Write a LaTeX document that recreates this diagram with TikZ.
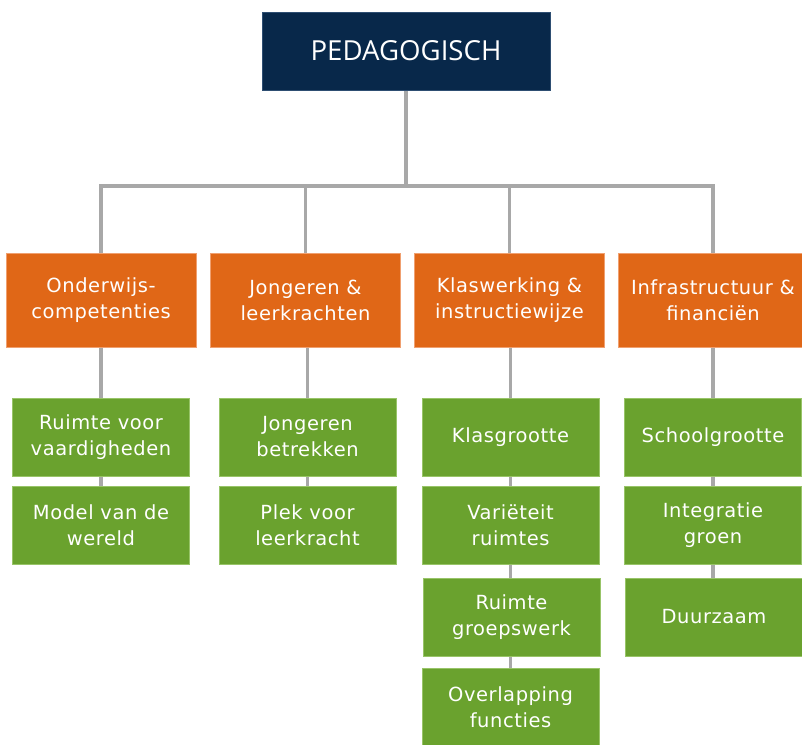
\documentclass[tikz,border=0pt]{standalone}
\usepackage{fontspec}
\setmainfont{DejaVu Sans}[LetterSpace=3]
\newfontfamily\titlefont{Open Sans}
\usetikzlibrary{backgrounds}
\definecolor{navy}{HTML}{08284A}
\definecolor{navyedge}{HTML}{2E4E72}
\definecolor{orangefill}{HTML}{E06717}
\definecolor{orangeedge}{HTML}{F0A070}
\definecolor{greenfill}{HTML}{6AA22E}
\definecolor{greenedge}{HTML}{98C468}
\definecolor{linkgray}{HTML}{A8A8A8}
\tikzset{
  x=0.75pt, y=-0.75pt,
  topbox/.style={draw=navyedge, line width=0.5pt, fill=navy, text=white,
    minimum width=216pt, minimum height=58.5pt, inner sep=0pt,
    font=\titlefont\fontsize{20.7}{25}\selectfont},
  catbox/.style={draw=orangeedge, line width=0.6pt, fill=orangefill, text=white,
    minimum width=142.5pt, minimum height=70.5pt, inner sep=0pt, align=center,
    font=\fontsize{14.6}{19.5}\selectfont},
  itembox/.style={draw=greenedge, line width=0.6pt, fill=greenfill, text=white,
    minimum width=132.75pt, minimum height=58.5pt, inner sep=0pt, align=center,
    font=\fontsize{14.6}{19.5}\selectfont},
  link/.style={draw=linkgray, line width=2.4pt}
}
\begin{document}
\begin{tikzpicture}
\useasboundingbox (0,0) rectangle (802,744);
\clip (0,0) rectangle (802,744);

% root
\node[topbox] (root) at (406,51) {PEDAGOGISCH};

% categories
\node[catbox] (c1) at (101,300) {Onderwijs-\\competenties};
\node[catbox] (c2) at (305.5,300) {Jongeren \&\\leerkrachten};
\node[catbox] (c3) at (509.5,300) {Klaswerking \&\\instructiewijze};
\node[catbox] (c4) at (713,300) {Infrastructuur \&\\financiën};

% items, column 1
\node[itembox] (a1) at (101,437) {Ruimte voor\\vaardigheden};
\node[itembox] (a2) at (101,525) {Model van de\\wereld};
% column 2
\node[itembox] (b1) at (307.5,437) {Jongeren\\betrekken};
\node[itembox] (b2) at (307.5,525) {Plek voor\\leerkracht};
% column 3
\node[itembox] (k1) at (510.5,437) {Klasgrootte};
\node[itembox] (k2) at (510.5,525) {Variëteit\\ruimtes};
\node[itembox] (k3) at (511.5,617) {Ruimte\\groepswerk};
\node[itembox] (k4) at (510.5,707) {Overlapping\\functies};
% column 4
\node[itembox] (i1) at (713,437) {Schoolgrootte};
\node[itembox] (i2) at (713,525) {Integratie\\groen};
\node[itembox] (i3) at (714,617) {Duurzaam};

\coordinate (hub) at (406,186);

\begin{pgfonlayer}{background}
  \draw[link] (root.south) -- (hub);
  \foreach \c in {c1,c2,c3,c4} \draw[link] (hub) -| (\c.north);
  % vertical chains below each category
  \draw[link] (c1.south) -- (c1.south |- a1.north);
  \draw[link] (a1.south) -- (a1.south |- a2.north);
  \draw[link] (b1.north |- c2.south) -- (b1.north);
  \draw[link] (b1.south) -- (b1.south |- b2.north);
  \draw[link] (k1.north |- c3.south) -- (k1.north);
  \draw[link] (k1.south) -- (k1.south |- k2.north);
  \draw[link] (k2.south) -- (k2.south |- k3.north);
  \draw[link] (k4.north |- k3.south) -- (k4.north);
  \draw[link] (c4.south) -- (c4.south |- i1.north);
  \draw[link] (i1.south) -- (i1.south |- i2.north);
  \draw[link] (i2.south) -- (i2.south |- i3.north);
\end{pgfonlayer}
\end{tikzpicture}
\end{document}
